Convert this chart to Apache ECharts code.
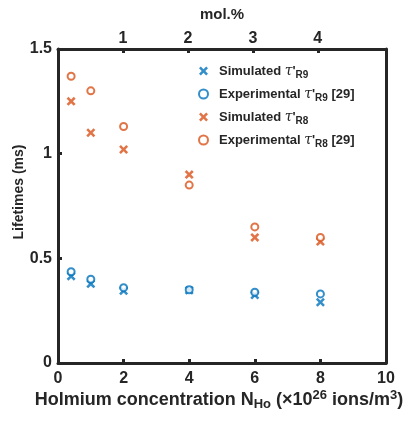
<!DOCTYPE html>
<html>
<head>
<meta charset="utf-8">
<script src="https://cdn.jsdelivr.net/npm/echarts@6/dist/echarts.min.js"></script>
<style>
html,body{margin:0;padding:0;background:#fff;}
#chart{width:409px;height:422px;}
</style>
</head>
<body>
<div id="chart"></div>
<script>
// 浓度 (x10^26 ions/m^3)
var conc = [0.4, 1, 2, 4, 6, 8];
// R9
var simR9 = [0.415, 0.378, 0.345, 0.347, 0.325, 0.29];
var expR9 = [0.436, 0.40, 0.36, 0.35, 0.338, 0.33];
// R8
var simR8 = [1.25, 1.10, 1.02, 0.90, 0.60, 0.58];
var expR8 = [1.37, 1.30, 1.13, 0.85, 0.65, 0.60];
// 顶部 mol.% 刻度
var molTicks = [1, 2, 3, 4];
var molFactor = 1.98;

var blue = '#0072BD';
var orange = '#D95319';
var dark = '#262626';
var font = 'Liberation Sans, Arial, sans-serif';
var crossPath = 'path://M2,0 L5,3 L8,0 L10,2 L7,5 L10,8 L8,10 L5,7 L2,10 L0,8 L3,5 L0,2 Z';

function pairs(xs, ys) {
	var out = [];
	for (var i = 0; i < xs.length; i++) out.push([xs[i], ys[i]]);
	return out;
}

var axisLine = {show: true, onZero: false, lineStyle: {color: dark, width: 3}};
var tickStyle = {show: true, inside: true, length: 4, lineStyle: {color: dark, width: 3}};
var labelStyle = {color: dark, fontFamily: font, fontWeight: 'bold', fontSize: 16};

var legRich = {
	t: {fontFamily: font, fontWeight: 'bold', fontSize: 13, color: dark, lineHeight: 18},
	g: {fontFamily: 'DejaVu Serif, serif', fontStyle: 'italic', fontSize: 14, color: dark, lineHeight: 18},
	s: {fontFamily: font, fontWeight: 'bold', fontSize: 10, color: dark, lineHeight: 10, verticalAlign: 'bottom'}
};

var myChart = echarts.init(document.getElementById('chart'));
var option = {
	backgroundColor: '#fff',
	animation: false,
	grid: {left: 58, right: 23, top: 49, bottom: 59, containLabel: false, outerBoundsMode: 'none'},
	legend: {
		orient: 'vertical',
		left: 193,
		top: 59,
		itemWidth: 9,
		itemHeight: 9,
		itemGap: 7,
		data: ['simR9', 'expR9', 'simR8', 'expR8'],
		formatter: function (name) {
			var map = {
				simR9: '{t|Simulated }{g|τ}{t|\'}{s|R9}',
				expR9: '{t|Experimental }{g|τ}{t|\'}{s|R9}{t| [29]}',
				simR8: '{t|Simulated }{g|τ}{t|\'}{s|R8}',
				expR8: '{t|Experimental }{g|τ}{t|\'}{s|R8}{t| [29]}'
			};
			return map[name];
		},
		textStyle: {rich: legRich, padding: [0, 0, 0, 6]}
	},
	xAxis: [
		{
			type: 'value', position: 'bottom', min: 0, max: 10, interval: 2,
			axisLine: axisLine, axisTick: tickStyle, splitLine: {show: false},
			axisLabel: Object.assign({margin: 8}, labelStyle),
			name: '{t|Holmium concentration N}{s|Ho}{t| (×10}{p|26}{t| ions/m}{p|3}{t|)}',
			nameLocation: 'middle',
			nameGap: 26,
			nameMoveOverlap: false,
			nameTextStyle: {
				padding: [0, 6, 0, 0],
				rich: {
					t: {fontFamily: font, fontWeight: 'bold', fontSize: 18, color: dark, lineHeight: 22},
					s: {fontFamily: font, fontWeight: 'bold', fontSize: 13, color: dark, lineHeight: 11, verticalAlign: 'bottom'},
					p: {fontFamily: font, fontWeight: 'bold', fontSize: 13, color: dark, lineHeight: 11, verticalAlign: 'top'}
				}
			}
		},
		{
			type: 'value', position: 'top', min: 0, max: 10 / molFactor, interval: 1,
			axisLine: axisLine,
			axisTick: Object.assign({customValues: molTicks}, tickStyle),
			splitLine: {show: false},
			axisLabel: Object.assign({margin: 2, customValues: molTicks}, labelStyle),
			name: 'mol.%',
			nameLocation: 'middle',
			nameGap: 27,
			nameMoveOverlap: false,
			nameTextStyle: {color: dark, fontFamily: font, fontWeight: 'bold', fontSize: 15}
		}
	],
	yAxis: [
		{
			type: 'value', position: 'left', min: 0, max: 1.5, interval: 0.5,
			axisLine: axisLine, axisTick: tickStyle, splitLine: {show: false},
			axisLabel: Object.assign({margin: 6}, labelStyle),
			name: 'Lifetimes (ms)',
			nameLocation: 'middle',
			nameGap: 32,
			nameMoveOverlap: false,
			nameTextStyle: {color: dark, fontFamily: font, fontWeight: 'bold', fontSize: 14, padding: [0, 0, 0, 28]}
		},
		{
			type: 'value', position: 'right', min: 0, max: 1.5, interval: 0.5,
			axisLine: axisLine, axisTick: {show: false}, axisLabel: {show: false}, splitLine: {show: false}
		}
	],
	series: [
		{
			name: 'simR9', type: 'scatter', data: pairs(conc, simR9),
			symbol: crossPath, symbolSize: 9, itemStyle: {color: blue}
		},
		{
			name: 'expR9', type: 'scatter', data: pairs(conc, expR9),
			symbol: 'emptyCircle', symbolSize: 7, itemStyle: {color: blue, borderColor: blue, borderWidth: 3}
		},
		{
			name: 'simR8', type: 'scatter', data: pairs(conc, simR8),
			symbol: crossPath, symbolSize: 9, itemStyle: {color: orange}
		},
		{
			name: 'expR8', type: 'scatter', data: pairs(conc, expR8),
			symbol: 'emptyCircle', symbolSize: 7, itemStyle: {color: orange, borderColor: orange, borderWidth: 3}
		}
	]
};

// 将配置应用到图表上
myChart.setOption(option);
</script>
</body>
</html>
